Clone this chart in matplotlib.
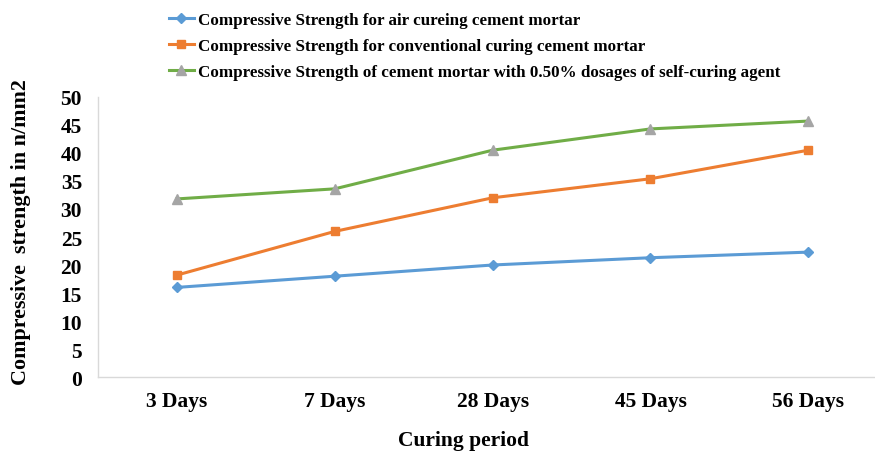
import matplotlib
matplotlib.use("Agg")
from matplotlib import pyplot as plt

# data
periods = ["3 Days", "7 Days", "28 Days", "45 Days", "56 Days"]
air_curing = [16.0, 18.0, 20.0, 21.3, 22.3]
conventional_curing = [18.2, 26.0, 32.0, 35.4, 40.5]
self_curing = [31.8, 33.6, 40.5, 44.3, 45.7]

labels = [
    "Compressive Strength for air cureing cement mortar",
    "Compressive Strength for conventional curing cement mortar",
    "Compressive Strength of cement mortar with 0.50% dosages of self-curing agent",
]

plt.rcParams["font.family"] = ["Liberation Serif", "DejaVu Serif"]
plt.rcParams["font.weight"] = "bold"

fig = plt.figure(figsize=(8.75, 4.52), dpi=100)
ax = fig.add_axes([0.112, 0.1637, 0.902, 0.6195])

x = range(len(periods))
ax.plot(x, air_curing, color="#5b9bd5", marker="D", markersize=5, linewidth=2.2, label=labels[0])
ax.plot(x, conventional_curing, color="#ed7d31", marker="s", markersize=5.5, linewidth=2.2, label=labels[1])
ax.plot(x, self_curing, color="#70ad47", marker="^", markersize=6.5, linewidth=2.2,
        markerfacecolor="#a5a5a5", markeredgecolor="#a5a5a5", label=labels[2])

ax.set_xlim(-0.5, len(periods) - 0.5)
ax.set_ylim(0, 50)
ax.set_yticks(range(0, 51, 5))
ax.set_xticks(list(x))
ax.set_xticklabels(periods)
ax.tick_params(axis="both", length=0, labelsize=15.5)
ax.tick_params(axis="y", pad=11.5)
ax.tick_params(axis="x", pad=10)

for side in ["top", "right"]:
    ax.spines[side].set_visible(False)
for side in ["left", "bottom"]:
    ax.spines[side].set_color("#d9d9d9")
    ax.spines[side].set_linewidth(1)

# axis titles placed like the original (x title is left of the axes centre)
fig.text(464 / 875, 1 - 446 / 452, "Curing period", fontsize=15.5, fontweight="bold",
         ha="center", va="baseline")
fig.text(21 / 875, 1 - 232 / 452, "Compressive  strength in n/mm2", fontsize=15.8,
         fontweight="bold", rotation=90, ha="center", va="center")

fig.legend(loc="upper left", bbox_to_anchor=(0.185, 0.986), frameon=False,
           fontsize=12.25, handlelength=1.5, handletextpad=0.2, labelspacing=0.58,
           borderaxespad=0)

plt.savefig("out.png", dpi=100)
